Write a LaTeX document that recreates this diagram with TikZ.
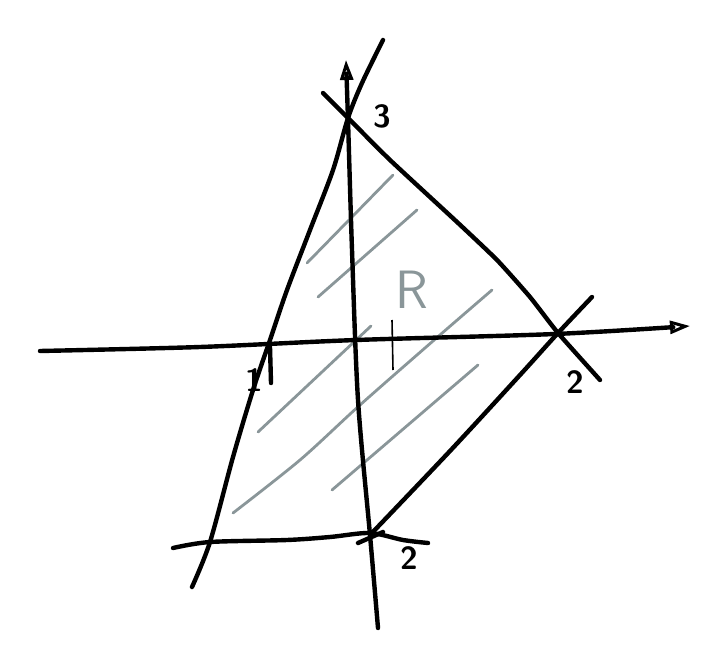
\documentclass[tikz,border=0pt]{standalone}
\usepackage{tikz}
\usetikzlibrary{arrows.meta}
\colorlet{ink}{black}
\definecolor{hatchgray}{RGB}{138,150,153}
\colorlet{labelgray}{hatchgray}

\begin{document}
\begin{tikzpicture}[x=1pt,y=-1pt,
  pen/.style={line width=4.4pt,line cap=round,line join=round,ink},
  hatch/.style={line width=2.8pt,line cap=round,hatchgray},
  digit/.style={font=\sffamily\bfseries\fontsize{32}{32}\selectfont,inner sep=0pt},
  >={Triangle[open,length=20pt,width=13pt,line width=3pt]}]
\useasboundingbox (0,0) rectangle (703,663);
% ---- hatching of the region ----
\draw[hatch] (307,263)--(393,175);
\draw[hatch] (318,297)--(417,210);
\draw[hatch] (258,432)--(371,326);
\draw[hatch] plot[smooth] coordinates {(233,513) (300,460) (360,405) (433,341) (492,290)};
\draw[hatch] (332,490)--(478,365);
% ---- axes ----
\draw[pen,->] plot[smooth] coordinates {(40,351) (200,347) (356,340) (555,334) (690,326)};
\draw[pen,->] plot[smooth] coordinates {(378,628) (370,535) (358,400) (352,250) (348,120) (346,60)};
% ---- edges of the region ----
\draw[pen] plot[smooth] coordinates {(383,40) (362,83) (348,118) (333,170) (310,230) (287,290) (270,340) (253,390) (233,457) (210,542) (192,587)};
\draw[pen] plot[smooth,tension=0.3] coordinates {(323,93) (348,118) (390,160) (457,222) (497,260) (530,297) (558,333) (600,380)};
\draw[pen] plot[smooth] coordinates {(370,535) (450,451) (520,375) (558,333) (592,297)};
\draw[pen] plot[smooth] coordinates {(173,548) (210,542) (287,540) (330,537) (370,533) (403,540) (428,543)};
\draw[pen] (358,543)--(383,532);
% ---- ticks ----
\draw[pen] (270,347)--(271,383);
\draw[line width=1.6pt,ink] (392,320)--(393,370);
% ---- labels ----
\node[digit] (lbl3) at (382,116) {3};
\node[digit] (lbl1) at (254,380) {1};
\node[digit] (lblx) at (575,382) {2};
\node[digit] (lbly) at (409,558) {2};
\node[font=\sffamily\fontsize{54}{54}\selectfont,text=labelgray,inner sep=0pt] (lblR) at (412,290) {R};
\end{tikzpicture}
\end{document}
